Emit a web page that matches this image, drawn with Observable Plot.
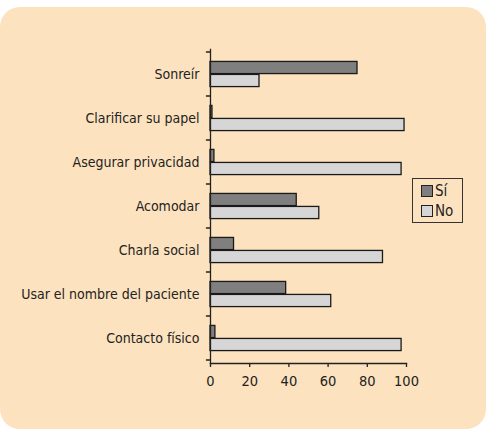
<!DOCTYPE html>
<html><head><meta charset="utf-8">
<script src="https://cdn.jsdelivr.net/npm/d3@7"></script>
<script src="https://cdn.jsdelivr.net/npm/@observablehq/plot@0.6"></script>
<style>
html,body{margin:0;padding:0;background:#fff;}
#wrap{position:absolute;left:0;top:7px;width:486px;height:422px;background:#fde2bf;border-radius:20px;overflow:hidden;}
#legend{position:absolute;left:412px;top:171px;width:51px;height:45px;border:1.3px solid #333;box-sizing:border-box;font-family:"DejaVu Sans Condensed","Liberation Sans Narrow",sans-serif;font-size:15px;color:#222;padding:2px 0 0 8px;line-height:20px;}
#legend .sw{display:inline-block;width:10px;height:10px;border:1.2px solid #222;margin-right:2px;vertical-align:-1px;}
</style></head>
<body>
<div id="wrap"></div>
<script>
const categories = ["Sonreír","Clarificar su papel","Asegurar privacidad","Acomodar","Charla social","Usar el nombre del paciente","Contacto físico"];
const series = ["Sí","No"];
const si = [75, 1, 2, 44, 12, 38.6, 2.5];
const no = [25, 99, 97.5, 55.5, 88, 61.6, 97.5];
const colors = ["#7f7f7f","#d6d6d6"];
const xTicks = [0,20,40,60,80,100];

const data = categories.flatMap((c,i)=>[
  {cat:c, serie:"Sí", value: si[i]},
  {cat:c, serie:"No", value: no[i]}
]);
const H = 422, mt = 42, mb = 66;
const step = (H - mt - mb) / categories.length;
const barH = 13;
const pad = (step - 2*barH)/2;
const bounds = categories.map(c=>({cat:c, bottom:false}));
bounds.push({cat:categories[categories.length-1], bottom:true});

const font = `"DejaVu Sans Condensed","Liberation Sans Narrow",sans-serif`;
const plot = Plot.plot({
  width: 486, height: H,
  marginLeft: 210, marginRight: 80, marginTop: mt, marginBottom: mb,
  style: {background:"transparent", fontFamily: font, fontSize: "14px", color:"#222"},
  x: {domain:[0,100], ticks: xTicks, label: null},
  y: {domain: categories, padding: 0, label: null},
  marks: [
    Plot.barX(data.filter(d=>d.serie==="Sí"), {x:"value", y:"cat", fill: colors[0], stroke:"#1a1a1a", strokeWidth:1.3, insetTop: pad, insetBottom: pad+barH}),
    Plot.barX(data.filter(d=>d.serie==="No"), {x:"value", y:"cat", fill: colors[1], stroke:"#1a1a1a", strokeWidth:1.3, insetTop: pad+barH, insetBottom: pad}),
    Plot.frame({anchor:"left", stroke:"#222", strokeWidth:1.3}),
    Plot.frame({anchor:"bottom", stroke:"#222", strokeWidth:1.3}),
    Plot.link(bounds, {x1: -2.1, x2: 0, y1:"cat", y2:"cat", render: (index, scales) => {
      const g = d3.create("svg:g").attr("stroke","#222").attr("stroke-width",1.3);
      const bw = scales.scales && scales.scales.y && scales.scales.y.bandwidth ? scales.scales.y.bandwidth : step;
      for (const i of index) {
        const b = bounds[i];
        const y = scales.y(b.cat) + (b.bottom ? bw : 0);
        g.append("line").attr("x1", scales.x(-2.1)).attr("x2", scales.x(0)).attr("y1", y).attr("y2", y);
      }
      return g.node();
    }}),
    Plot.axisX({ticks: xTicks, tickSize: 4, tickPadding: 8, stroke:"#222", strokeWidth:1.3, fontSize:"14.5px"}),
    Plot.axisY({tickSize: 0, tickPadding: 11, fontSize:"14px"})
  ]
});
document.getElementById("wrap").appendChild(plot);
const lg = document.createElement("div");
lg.id = "legend";
lg.innerHTML = series.map((s,i)=>`<div><span class="sw" style="background:${colors[i]}"></span>${s}</div>`).join("");
document.getElementById("wrap").appendChild(lg);
</script>
</body></html>
